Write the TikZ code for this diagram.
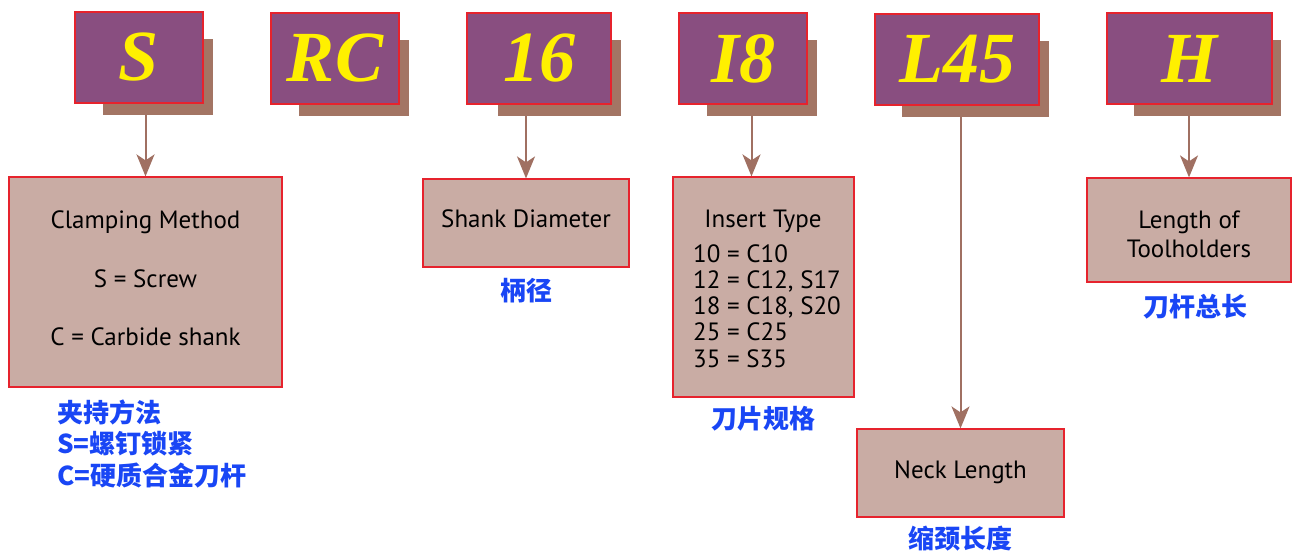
\documentclass[tikz,border=0pt]{standalone}
\usepackage{fontspec}
\setmainfont{PT Sans}
\newfontfamily\codefont{Liberation Serif}
\newfontfamily\cjk{Noto Sans CJK SC}
\usetikzlibrary{arrows.meta}

\definecolor{codepurple}{RGB}{137,78,128}
\definecolor{codeyellow}{RGB}{255,240,0}
\definecolor{shadowbrown}{RGB}{163,117,100}
\definecolor{infofill}{RGB}{201,172,164}
\definecolor{boxred}{RGB}{230,35,45}
\definecolor{arrowbrown}{RGB}{160,112,98}
\definecolor{cnblue}{RGB}{25,70,245}

\begin{document}
\begin{tikzpicture}[x=1pt, y=-1pt,
    codebox/.style={draw=boxred, line width=1.2pt, fill=codepurple, text=codeyellow,
      font=\codefont\bfseries\itshape\fontsize{72}{72}\selectfont, inner sep=0pt},
    shadowbox/.style={fill=shadowbrown, inner sep=0pt},
    infobox/.style={draw=boxred, line width=1.2pt, fill=infofill, inner sep=0pt},
    infotext/.style={font=\fontsize{25}{30}\selectfont, inner sep=0pt, anchor=base},
    cntext/.style={font=\cjk\bfseries\fontsize{26}{30}\selectfont, text=cnblue, inner sep=0pt, anchor=base},
    pointer/.style={draw=arrowbrown, line width=2pt, -{Stealth[length=22pt, width=18pt, inset=6pt]}}]
  \useasboundingbox (0,0) rectangle (1292,554);

  % shadows behind the code letters
  \node[shadowbox, minimum width=110, minimum height=76] (shS) at (158,77) {};
  \node[shadowbox, minimum width=110, minimum height=76] (shRC) at (354,78) {};
  \node[shadowbox, minimum width=123, minimum height=76] (shD) at (559.5,78) {};
  \node[shadowbox, minimum width=110, minimum height=76] (shI) at (762,78) {};
  \node[shadowbox, minimum width=147, minimum height=76] (shL) at (975.5,79) {};
  \node[shadowbox, minimum width=147, minimum height=76] (shH) at (1207.5,78) {};

  \node[codebox, minimum width=128, minimum height=91] (cS) at (139,57.5) {S};
  \node[codebox, minimum width=128, minimum height=91] (cRC) at (335,58.5) {RC};
  \node[codebox, minimum width=144, minimum height=91] (cD) at (539,58.5) {16};
  \node[codebox, minimum width=128, minimum height=91] (cI) at (743,58.5) {I8};
  \node[codebox, minimum width=164, minimum height=91] (cL) at (957,59.5) {L45};
  \node[codebox, minimum width=165, minimum height=91] (cH) at (1189.5,58.5) {H};

  % description boxes
  \node[infobox, minimum width=273, minimum height=210] (clamp) at (145.5,282) {};
  \node[infobox, minimum width=206, minimum height=88] (shank) at (526,223) {};
  \node[infobox, minimum width=181, minimum height=220] (insert) at (763.5,287) {};
  \node[infobox, minimum width=207, minimum height=88] (neck) at (960.5,473) {};
  \node[infobox, minimum width=204, minimum height=104] (length) at (1189,230) {};

  \node[infotext] (clampA) at (145.5,228) {Clamping Method};
  \node[infotext] (clampB) at (145.5,287) {S = Screw};
  \node[infotext] (clampC) at (145.5,345) {C = Carbide shank};
  \node[infotext] (shankT) at (526,227) {Shank Diameter};
  \node[infotext] (insertT) at (763,227) {Insert Type};
  \foreach \t [count=\i] in {10 = C10, {12 = C12, S17}, {18 = C18, S20}, 25 = C25, 35 = S35}
    \node[infotext, anchor=base west] (insert\i) at (693,235.7+26.3*\i) {\t};
  \node[infotext] (neckT) at (960.5,478) {Neck Length};
  \node[infotext] (lengthA) at (1189,228) {Length of};
  \node[infotext] (lengthB) at (1189,257) {Toolholders};

  % chinese notes
  \node[cntext, anchor=base west] (cnClampA) at (57,422) {夹持方法};
  \node[cntext, anchor=base west] (cnClampB) at (57,453.5) {S=螺钉锁紧};
  \node[cntext, anchor=base west] (cnClampC) at (57,485) {C=硬质合金刀杆};
  \node[cntext] (cnShank) at (526,300) {柄径};
  \node[cntext] (cnInsert) at (763,428) {刀片规格};
  \node[cntext] (cnLength) at (1195,316) {刀杆总长};
  \node[cntext] (cnNeck) at (960,548) {缩颈长度};

  \coordinate (insTop) at ([xshift=-12pt]insert.north);
  \draw[pointer] (shS.south -| clamp.north) -- (clamp.north);
  \draw[pointer] (shD.south -| shank.north) -- (shank.north);
  \draw[pointer] (shI.south -| insTop) -- (insTop);
  \draw[pointer] (shL.south -| neck.north) -- (neck.north);
  \draw[pointer] (shH.south -| length.north) -- (length.north);
\end{tikzpicture}
\end{document}
